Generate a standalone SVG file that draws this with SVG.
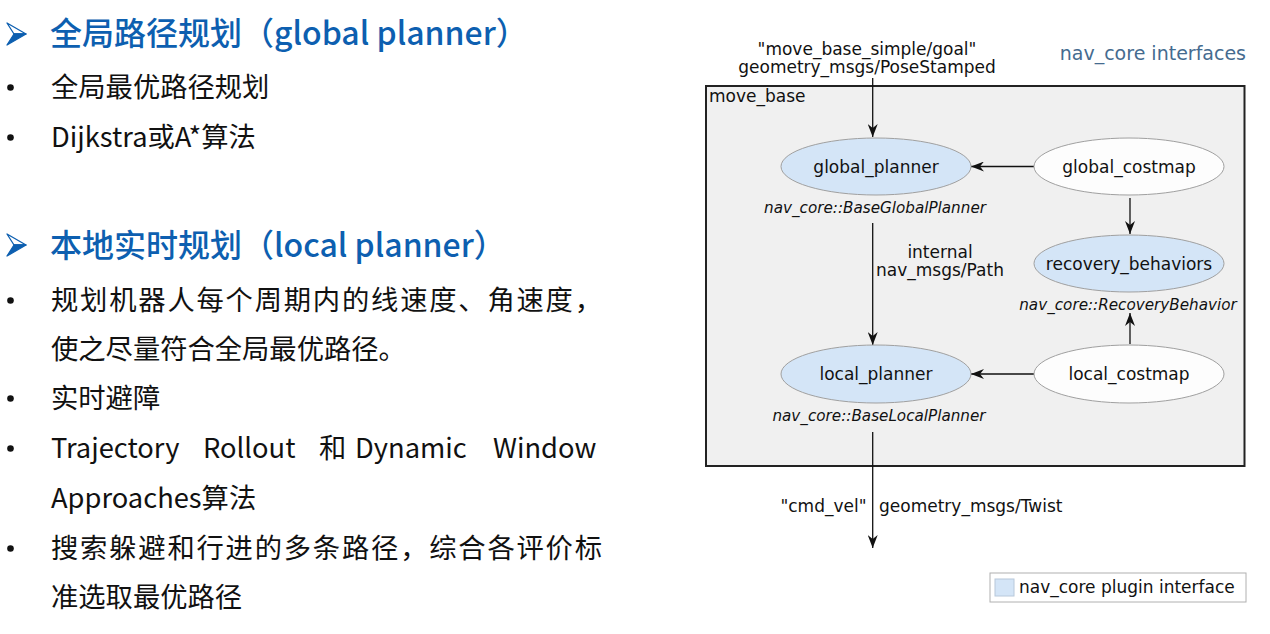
<svg xmlns="http://www.w3.org/2000/svg" width="1270" height="634" viewBox="0 0 1270 634">
<style>
.title{font-family:"Noto Sans CJK SC","Noto Sans",sans-serif;font-size:32px;fill:#0d5fb0;font-weight:500}
.body{font-family:"Noto Sans CJK SC","Noto Sans",sans-serif;font-size:27.3px;fill:#111}
.dg{font-family:"DejaVu Sans",sans-serif;fill:#111}
.nl{font-size:17px;text-anchor:middle}
.el{font-size:17px}
.it{font-size:15.2px;font-style:italic;text-anchor:middle}
.plug{fill:#d4e5f7;stroke:#a0a0a0;stroke-width:1}
.plain{fill:#fdfdfd;stroke:#a0a0a0;stroke-width:1}
.edge{stroke:#111;stroke-width:1.3;fill:none}
.bul{fill:#111}
</style>
<defs>
<marker id="ah" viewBox="0 0 13 10" refX="13" refY="5" markerWidth="13" markerHeight="10" markerUnits="userSpaceOnUse" orient="auto">
<path d="M0,0 L13,5 L0,10 L4,5 z" fill="#111"/>
</marker>
<g id="arrowbullet">
<polygon points="0,0 19,11 7,11" fill="#fff" stroke="#0d5fb0" stroke-width="1.3" stroke-linejoin="round"/>
<polygon points="7,11 19,11 0,22" fill="#0d5fb0" stroke="#0d5fb0" stroke-width="1.3" stroke-linejoin="round"/>
</g>
</defs>
<rect width="1270" height="634" fill="#fff"/>

<g id="left-text">
<use href="#arrowbullet" x="7" y="23"/>
<text class="title" x="50" y="45">全局路径规划（global planner）</text>
<circle class="bul" cx="10.5" cy="87.5" r="3.3"/>
<text class="body" x="51" y="97">全局最优路径规划</text>
<circle class="bul" cx="10.5" cy="137.5" r="3.3"/>
<text class="body" x="51" y="147">Dijkstra或A*算法</text>

<use href="#arrowbullet" x="7" y="234"/>
<text class="title" x="50" y="257">本地实时规划（local planner）</text>
<circle class="bul" cx="10.5" cy="300.5" r="3.3"/>
<text class="body" x="51" y="310" textLength="551" lengthAdjust="spacing">规划机器人每个周期内的线速度、角速度，</text>
<text class="body" x="51" y="359">使之尽量符合全局最优路径。</text>
<circle class="bul" cx="10.5" cy="398.5" r="3.3"/>
<text class="body" x="51" y="408">实时避障</text>
<circle class="bul" cx="10.5" cy="448.5" r="3.3"/>
<text class="body" y="458"><tspan x="51">Trajectory</tspan><tspan x="203">Rollout</tspan><tspan x="319">和</tspan><tspan x="355">Dynamic</tspan><tspan x="493">Window</tspan></text>
<text class="body" x="51" y="508">Approaches算法</text>
<circle class="bul" cx="10.5" cy="548.5" r="3.3"/>
<text class="body" x="51" y="558" textLength="551" lengthAdjust="spacing">搜索躲避和行进的多条路径，综合各评价标</text>
<text class="body" x="51" y="607">准选取最优路径</text>
</g>

<g id="move_base">
<rect x="706" y="86" width="538.5" height="380" fill="#f0f0f0" stroke="#222" stroke-width="2"/>
<text class="dg el" x="709" y="102">move_base</text>
</g>
<text class="dg" x="1246" y="60" font-size="19" text-anchor="end" style="fill:#456b8f">nav_core interfaces</text>

<g id="connectors">
<line class="edge" x1="872.7" y1="78" x2="872.7" y2="137" marker-end="url(#ah)"/>
<line class="edge" x1="1034" y1="166.5" x2="971" y2="166.5" marker-end="url(#ah)"/>
<line class="edge" x1="1130" y1="198" x2="1130" y2="234" marker-end="url(#ah)"/>
<line class="edge" x1="872.7" y1="223" x2="872.7" y2="345" marker-end="url(#ah)"/>
<line class="edge" x1="1130" y1="344" x2="1130" y2="313" marker-end="url(#ah)"/>
<line class="edge" x1="1034" y1="374" x2="971" y2="374" marker-end="url(#ah)"/>
<line class="edge" x1="872.7" y1="432" x2="872.7" y2="548" marker-end="url(#ah)"/>
<text class="dg el" x="867" y="55" text-anchor="middle">"move_base_simple/goal"</text>
<text class="dg el" x="867" y="73" text-anchor="middle">geometry_msgs/PoseStamped</text>
<text class="dg el" x="940" y="258" text-anchor="middle">internal</text>
<text class="dg el" x="940" y="276" text-anchor="middle">nav_msgs/Path</text>
<text class="dg el" x="866.5" y="512" text-anchor="end">"cmd_vel"</text>
<text class="dg el" x="879" y="512">geometry_msgs/Twist</text>
</g>

<g id="global_planner">
<ellipse class="plug" cx="876" cy="166.5" rx="95" ry="28.5"/>
<text class="dg nl" x="876" y="172.5">global_planner</text>
<text class="dg it" x="875" y="213">nav_core::BaseGlobalPlanner</text>
</g>
<g id="global_costmap">
<ellipse class="plain" cx="1129" cy="166.5" rx="95" ry="28.5"/>
<text class="dg nl" x="1129" y="172.5">global_costmap</text>
</g>
<g id="recovery_behaviors">
<ellipse class="plug" cx="1129" cy="263.5" rx="95" ry="28.5"/>
<text class="dg nl" x="1129" y="269.5">recovery_behaviors</text>
<text class="dg it" x="1128" y="310">nav_core::RecoveryBehavior</text>
</g>
<g id="local_planner">
<ellipse class="plug" cx="876" cy="374" rx="95" ry="29"/>
<text class="dg nl" x="876" y="380">local_planner</text>
<text class="dg it" x="879" y="421">nav_core::BaseLocalPlanner</text>
</g>
<g id="local_costmap">
<ellipse class="plain" cx="1129" cy="374" rx="95" ry="29"/>
<text class="dg nl" x="1129" y="380">local_costmap</text>
</g>

<g id="legend">
<rect x="990" y="573" width="256" height="29" fill="#fff" stroke="#b0b0b0" stroke-width="1"/>
<rect x="995" y="579" width="19" height="17" fill="#d4e5f7" stroke="#b8c8da" stroke-width="1"/>
<text class="dg el" x="1019" y="593">nav_core plugin interface</text>
</g>
</svg>
